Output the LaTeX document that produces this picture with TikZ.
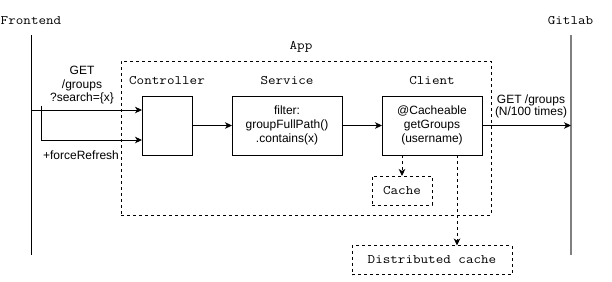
\documentclass[tikz,border=0pt]{standalone}
\usepackage{fontspec}
\setmainfont{Liberation Sans}
\newfontfamily\codefont{Latin Modern Mono}[FakeStretch=1.13]
\usetikzlibrary{arrows.meta}
\begin{document}
\begin{tikzpicture}[x=1pt,y=-1pt,
  every node/.style={inner sep=0pt,outer sep=0pt},
  txt/.style={font=\fontsize{12}{14}\selectfont,align=center},
  code/.style={font=\codefont\fontsize{13}{15}\selectfont},
  block/.style={draw,line width=0.9pt,minimum height=59pt,txt},
  store/.style={draw,line width=0.9pt,dash pattern=on 3pt off 3pt,minimum height=29pt,code},
  arr/.style={line width=0.9pt,-{Stealth[length=7pt,width=6.5pt,inset=2pt]}},
  darr/.style={arr,dash pattern=on 3pt off 3pt}]
\useasboundingbox (0,0) rectangle (612,281);

% lifelines
\node[code] (fe) at (31,21) {Frontend};
\node[code] (gl) at (570.5,21) {Gitlab};
\coordinate (fetop) at (31,35);
\coordinate (febot) at (31,255);
\coordinate (gltop) at (571,35);
\coordinate (glbot) at (571,255);
\draw[line width=0.9pt] (fetop) -- (febot);
\draw[line width=1.6pt,color={rgb,255:red,128;green,128;blue,128}] (gltop) -- (glbot);

% application frame
\node[draw,line width=0.9pt,dash pattern=on 3pt off 3pt,minimum width=370pt,minimum height=154pt] (app) at (306,138) {};
\node[code] (applbl) at (301,47) {App};

% components
\node[block,minimum width=50pt] (ctrl) at (167,125.5) {};
\node[code] (ctrllbl) at (167,81) {Controller};
\node[block,minimum width=110pt] (svc) at (287,125.5) {filter:\\groupFullPath()\\.contains(x)};
\node[code] (svclbl) at (287,81) {Service};
\node[block,minimum width=100pt] (cli) at (432,125.5) {@Cacheable\\getGroups\\(username)};
\node[code] (clilbl) at (432,81) {Client};

% caches
\node[store,minimum width=60pt] (cache) at (402,190.5) {Cache};
\node[store,minimum width=160pt] (dist) at (432,260) {Distributed cache};

% requests from the frontend
\coordinate (req) at (31,110);
\coordinate (frtop) at (41,106);
\coordinate (frbot) at (41,140);
\draw[arr] (req) -- (req -| ctrl.west);
\draw[arr] (frtop) -- (frbot) -- (frbot -| ctrl.west);
\node[txt,font=\fontsize{12}{13.5}\selectfont] (reqlbl) at (82,85.5) {GET\\/groups\\?search=\{x\}};
\node[txt] (frlbl) at (81,155) {+forceRefresh};

% internal calls
\draw[arr] (ctrl) -- (svc);
\draw[arr] (svc) -- (cli);
\draw[arr] (cli.east) -- (cli.east -| gltop);
\node[txt,font=\fontsize{12}{12}\selectfont] (gllbl) at (531,106) {GET /groups\\(N/100 times)};

% cache lookups
\draw[darr] (cli.south -| cache.north) -- (cache.north);
\coordinate (distsrc) at (457,155);
\draw[darr] (distsrc) -- (distsrc |- dist.north);
\end{tikzpicture}
\end{document}
